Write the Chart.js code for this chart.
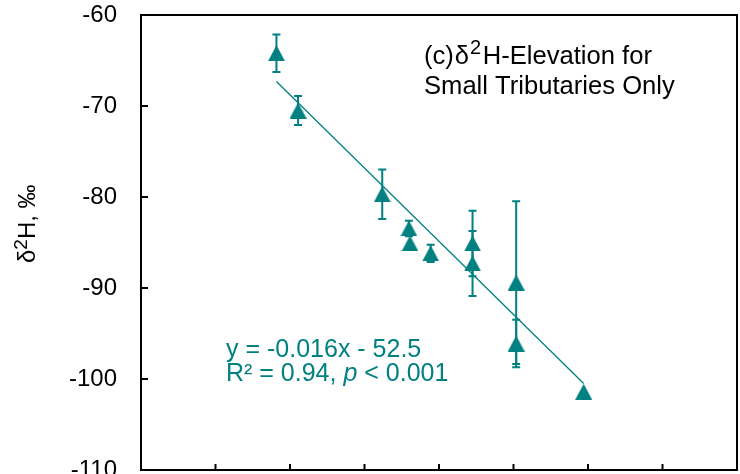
<!DOCTYPE html>
<html>
<head>
<meta charset="utf-8">
<script src="https://cdn.jsdelivr.net/npm/chart.js@4.4.1/dist/chart.umd.min.js"></script>
<style>
  body{margin:0;background:#fff}
  canvas{display:block}
</style>
</head>
<body>
<canvas id="chart" width="740" height="474"></canvas>
<script>

// elevation (m) and d2H (permil)
const elevation = [909, 1054, 1619, 1798, 1805, 1944, 2225, 2225, 2518, 2518, 2971]
const d2H = [-64.2, -70.5, -79.7, -83.45, -85.1, -86.2, -85.1, -87.3, -89.4, -96.1, -101.4]
const d2Herr = [2.05, 1.6, 2.73, 0.85, 0, 0.94, 3.6, 3.57, 8.94, 2.6, 0]

// fitted line ends
const fitX = [909, 2971]
const fitY = [-67.3, -100.5]

const yTicks = [-110, -100, -90, -80, -70, -60]
const xTicks = [0, 500, 1000, 1500, 2000, 2500, 3000, 3500, 4000]

const teal = "#008080"
const font = "Arial, 'Liberation Sans', sans-serif"

// triangle marker
const tri = document.createElement("canvas")
tri.width = 17
tri.height = 16
const tctx = tri.getContext("2d")
tctx.fillStyle = teal
tctx.beginPath()
tctx.moveTo(8.5, 0)
tctx.lineTo(17, 16)
tctx.lineTo(0, 16)
tctx.closePath()
tctx.fill()

const points = elevation.map(function(x, i){
    return {x: x, y: d2H[i], e: d2Herr[i]}
})

const errorBars = {
    id: "errorBars",
    beforeDatasetsDraw(chart){
        const ctx = chart.ctx
        const xs = chart.scales.x
        const ys = chart.scales.y
        ctx.save()
        ctx.strokeStyle = teal
        ctx.lineWidth = 2
        points.forEach(function(p){
            if(!p.e) return
            const px = xs.getPixelForValue(p.x)
            const top = ys.getPixelForValue(p.y + p.e)
            const bot = ys.getPixelForValue(p.y - p.e)
            ctx.beginPath()
            ctx.moveTo(px, top)
            ctx.lineTo(px, bot)
            ctx.moveTo(px - 4, top)
            ctx.lineTo(px + 4, top)
            ctx.moveTo(px - 4, bot)
            ctx.lineTo(px + 4, bot)
            ctx.stroke()
        })
        ctx.restore()
    }
}

function drawSup(ctx, parts, x, y){
    // parts: [text, size, raise, gap after]
    let cx = x
    parts.forEach(function(p){
        ctx.font = p[1] + "px " + font
        ctx.fillText(p[0], cx, y - p[2])
        cx += ctx.measureText(p[0]).width + (p[3] || 0)
    })
}

const frame = {
    id: "frame",
    afterDraw(chart){
        const ctx = chart.ctx
        const a = chart.chartArea
        const xs = chart.scales.x
        const ys = chart.scales.y
        ctx.save()
        ctx.strokeStyle = "#000"
        ctx.lineWidth = 2
        ctx.strokeRect(a.left, a.top, a.right - a.left, a.bottom - a.top)
        ctx.beginPath()
        yTicks.forEach(function(v){
            const py = ys.getPixelForValue(v)
            ctx.moveTo(a.left, py)
            ctx.lineTo(a.left + 7, py)
        })
        xTicks.forEach(function(v){
            const px = xs.getPixelForValue(v)
            ctx.moveTo(px, a.bottom)
            ctx.lineTo(px, a.bottom - 6)
        })
        ctx.stroke()

        // panel label
        ctx.fillStyle = "#000"
        ctx.textBaseline = "alphabetic"
        ctx.textAlign = "left"
        drawSup(ctx, [["(c)", 25.6, 0, 1], ["\u03b4", 25.6, 0, 1], ["2", 20, 10, 1.5], ["H-Elevation for", 25.6, 0]], 424, 64)
        drawSup(ctx, [["Small Tributaries Only", 25.6, 0]], 424, 94)

        // equation
        ctx.fillStyle = teal
        drawSup(ctx, [["y = -0.016x - 52.5", 25, 0]], 226, 357)
        let x0 = 226
        ctx.font = "25px " + font
        ctx.fillText("R\u00b2 = 0.94, ", x0, 381)
        x0 += ctx.measureText("R\u00b2 = 0.94, ").width
        ctx.font = "italic 25px " + font
        ctx.fillText("p", x0, 381)
        x0 += ctx.measureText("p").width
        ctx.font = "25px " + font
        ctx.fillText(" < 0.001", x0, 381)

        // y title
        ctx.fillStyle = "#000"
        ctx.translate(35, 263)
        ctx.rotate(-Math.PI / 2)
        drawSup(ctx, [["\u03b4", 24, 0], ["2", 19, 8], ["H, \u2030", 24, 0]], 0, 0)
        ctx.restore()
    }
}

new Chart(document.getElementById("chart"), {
    type: "scatter",
    data: {
        datasets: [
            {
                data: points,
                pointStyle: tri,
                pointRadius: 9,
                pointHoverRadius: 9,
                backgroundColor: teal,
                borderColor: teal
            },
            {
                type: "line",
                data: fitX.map(function(x, i){ return {x: x, y: fitY[i]} }),
                borderColor: teal,
                borderWidth: 1.3,
                pointRadius: 0,
                fill: false
            }
        ]
    },
    options: {
        responsive: false,
        devicePixelRatio: 1,
        animation: false,
        layout: {autoPadding: false, padding: {top: 15, right: 3, left: 0, bottom: 0}},
        plugins: {legend: {display: false}, tooltip: {enabled: false}},
        scales: {
            x: {
                type: "linear",
                min: 0,
                max: 4000,
                ticks: {display: false, stepSize: 500},
                grid: {display: false},
                border: {display: false},
                afterFit(s){
                    s.height = 4
                    s.paddingLeft = 0
                    s.paddingRight = 0
                }
            },
            y: {
                min: -110,
                max: -60,
                ticks: {
                    stepSize: 10,
                    color: "#000",
                    padding: 24,
                    font: {family: font, size: 24}
                },
                grid: {display: false, drawTicks: false},
                border: {display: false},
                afterFit(s){
                    s.width = 141
                    s.paddingTop = 0
                    s.paddingBottom = 0
                }
            }
        }
    },
    plugins: [errorBars, frame]
})

</script>
</body>
</html>
